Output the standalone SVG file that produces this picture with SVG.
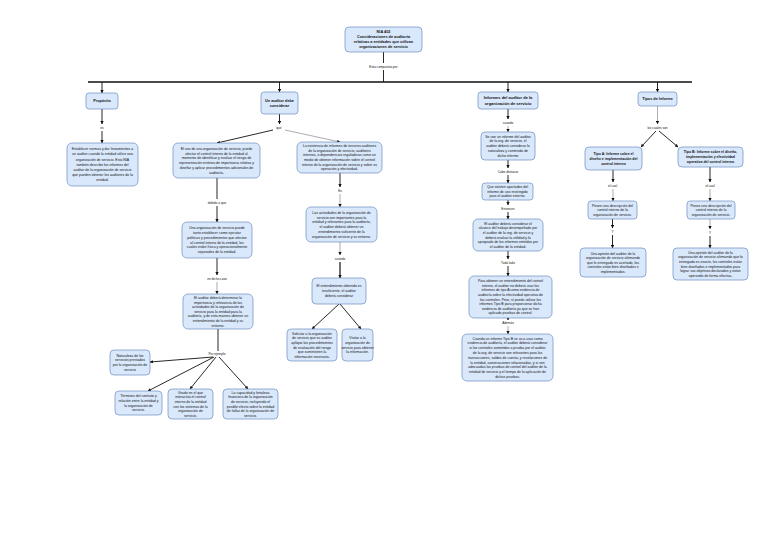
<svg xmlns="http://www.w3.org/2000/svg" width="768" height="544" viewBox="0 0 768 544">
<style>
.b{fill:#dae8fc;stroke:#6c8ebf;stroke-width:0.7}
.t{font-family:"Liberation Sans",Arial,sans-serif;font-size:3.5px;fill:#111;text-anchor:middle}
.h{font-family:"Liberation Sans",Arial,sans-serif;font-size:3.8px;font-weight:bold;fill:#111;text-anchor:middle}
.l{font-family:"Liberation Sans",Arial,sans-serif;font-size:3.2px;fill:#111;text-anchor:middle}
.e{stroke:#111;stroke-width:0.9;fill:none;marker-end:url(#a)}
.n{stroke:#111;stroke-width:0.9;fill:none}
.g{stroke:#888;stroke-width:0.7;fill:none;marker-end:url(#a)}
</style>
<defs>
<marker id="a" viewBox="0 0 6 6" refX="5.5" refY="3" markerWidth="3.2" markerHeight="3.2" markerUnits="userSpaceOnUse" orient="auto"><path d="M0,0 L6,3 L0,6 z" fill="#111"/></marker>
</defs>
<rect width="768" height="544" fill="#fff"/>
<g id="connectors">
<path class="n" d="M383.5,52 V63"/>
<path class="n" d="M383.5,70 V82"/>
<path class="n" d="M88,82 H692" style="stroke-width:1.3"/>
<path class="e" d="M102,82 V93"/>
<path class="e" d="M279.5,82 V92"/>
<path class="e" d="M508,82 V92"/>
<path class="e" d="M657.5,82 V92"/>
<path class="e" d="M102,109 V124"/>
<path class="e" d="M102,131 V143"/>
<path class="e" d="M279.5,114 V124"/>
<path class="e" d="M273,130 L217,143"/>
<path class="g" d="M285,130 L340,142"/>
<path class="n" d="M217,178 V199"/>
<path class="e" d="M217,206 V222"/>
<path class="e" d="M217,258 V275"/>
<path class="g" d="M217,282 V294"/>
<path class="n" d="M218,329 V351"/>
<path class="e" d="M213,357 L150,362"/>
<path class="e" d="M214,357 L148,391"/>
<path class="e" d="M216,357 L190,389"/>
<path class="e" d="M219,357 L248,389"/>
<path class="e" d="M340,173 V187"/>
<path class="g" d="M340,194 V207"/>
<path class="g" d="M340,242 V255"/>
<path class="e" d="M340,262 V278" style="stroke-width:1.2"/>
<path class="e" d="M339,304 L312,329"/>
<path class="e" d="M340,304 L361,329"/>
<path class="e" d="M508,109 V119"/>
<path class="g" d="M508,126 V132"/>
<path class="e" d="M508,160 V168"/>
<path class="e" d="M508,175 V183"/>
<path class="e" d="M508,200 V205"/>
<path class="e" d="M508,212 V219"/>
<path class="e" d="M508,251 V259"/>
<path class="e" d="M508,266 V276"/>
<path class="e" d="M508,318 V320"/>
<path class="g" d="M508,326 V334"/>
<path class="g" d="M657.5,106 V124"/>
<path class="e" d="M656,131 L641,147"/>
<path class="e" d="M659,131 L678,147"/>
<path class="e" d="M613,170 V182"/>
<path class="g" d="M613,189 V201"/>
<path class="e" d="M612.5,219 V228"/>
<path class="e" d="M612.5,235 V248"/>
<path class="e" d="M710,167 V182"/>
<path class="g" d="M710,189 V201"/>
<path class="g" d="M710,219 V229"/>
<path class="e" d="M710,236 V248"/>
</g>
<g id="labels">
<text class="l" x="383.5" y="67.8">Esta compuesta por</text>
<text class="l" x="102" y="128.8">es</text>
<text class="l" x="279" y="128.8">que</text>
<text class="l" x="217" y="203.8">debido a que</text>
<text class="l" x="217" y="279.8">en dicho caso</text>
<text class="l" x="217" y="355">Por ejemplo</text>
<text class="l" x="340" y="191.8">Es</text>
<text class="l" x="340" y="259.8">cuando</text>
<text class="l" x="508" y="123.8">cuando</text>
<text class="l" x="508" y="172.8">Cabe destacar</text>
<text class="l" x="508" y="209.8">Entonces</text>
<text class="l" x="508" y="263.8">Todo lado</text>
<text class="l" x="508" y="323.8">Además</text>
<text class="l" x="657.5" y="128.8">los cuales son</text>
<text class="l" x="612.5" y="186.8">el cual</text>
<text class="l" x="612.5" y="232.8">Y</text>
<text class="l" x="710" y="186.8">el cual</text>
<text class="l" x="710" y="233.8">Y</text>
</g>
<g id="title"><rect class="b" x="345" y="27" width="77" height="25" rx="4"/>
<text class="h" y="33.3"><tspan x="383.5">NIA 402</tspan><tspan x="383.5" dy="5">Consideraciones de auditoría</tspan><tspan x="383.5" dy="5">relativas a entidades que utilizan</tspan><tspan x="383.5" dy="5">organizaciones de servicio</tspan></text></g>
<g id="proposito"><rect class="b" x="86" y="93" width="32" height="16" rx="3"/>
<text class="h" x="102" y="102.3">Propósito</text></g>
<g id="proposito-def"><rect class="b" x="67" y="143" width="71" height="43" rx="5"/>
<text class="t" y="150.1"><tspan x="102.5">Establecer normas y dar lineamientos a</tspan><tspan x="102.5" dy="5.2">un auditor cuando la entidad utilice una</tspan><tspan x="102.5" dy="5.2">organización de servicio. Esta NIA</tspan><tspan x="102.5" dy="5.2">también describe los informes del</tspan><tspan x="102.5" dy="5.2">auditor de la organización de servicio</tspan><tspan x="102.5" dy="5.2">que pueden obtener los auditores de la</tspan><tspan x="102.5" dy="5.2">entidad.</tspan></text></g>
<g id="auditor"><rect class="b" x="261" y="92" width="37" height="22" rx="3"/>
<text class="h" y="101.8"><tspan x="279.5">Un auditor debe</tspan><tspan x="279.5" dy="5">considerar</tspan></text></g>
<g id="a1"><rect class="b" x="173" y="143" width="87" height="35" rx="5"/>
<text class="t" y="149.7"><tspan x="216.5">El uso de una organización de servicio, puede</tspan><tspan x="216.5" dy="4.8">afectar el control interno de la entidad al</tspan><tspan x="216.5" dy="4.8">momento de identificar y evaluar el riesgo de</tspan><tspan x="216.5" dy="4.8">representación errónea de importancia relativa y</tspan><tspan x="216.5" dy="4.8">diseñar y aplicar procedimientos adicionales de</tspan><tspan x="216.5" dy="4.8">auditoría.</tspan></text></g>
<g id="a2"><rect class="b" x="182" y="222" width="70" height="36" rx="5"/>
<text class="t" y="229.2"><tspan x="217">Una organización de servicio puede</tspan><tspan x="217" dy="4.8">tanto establecer como ejecutar</tspan><tspan x="217" dy="4.8">políticas y procedimientos que afectan</tspan><tspan x="217" dy="4.8">al control interno de la entidad, los</tspan><tspan x="217" dy="4.8">cuales están física y operacionalmente</tspan><tspan x="217" dy="4.8">separados de la entidad.</tspan></text></g>
<g id="a3"><rect class="b" x="183" y="294" width="70" height="35" rx="5"/>
<text class="t" y="298.9"><tspan x="218">El auditor deberá determinar la</tspan><tspan x="218" dy="4.6">importancia y relevancia de las</tspan><tspan x="218" dy="4.6">actividades de la organización de</tspan><tspan x="218" dy="4.6">servicio para la entidad para la</tspan><tspan x="218" dy="4.6">auditoría, y de esta manera obtener un</tspan><tspan x="218" dy="4.6">entendimiento de la entidad y su</tspan><tspan x="218" dy="4.6">entorno.</tspan></text></g>
<g id="n1"><rect class="b" x="110" y="350" width="40" height="25" rx="4"/>
<text class="t" y="356.8"><tspan x="130">Naturaleza de los</tspan><tspan x="130" dy="4.6">servicios prestados</tspan><tspan x="130" dy="4.6">por la organización de</tspan><tspan x="130" dy="4.6">servicio</tspan></text></g>
<g id="n2"><rect class="b" x="115" y="391" width="47" height="24" rx="4"/>
<text class="t" y="397.3"><tspan x="138.5">Términos del contrato y</tspan><tspan x="138.5" dy="4.6">relación entre la entidad y</tspan><tspan x="138.5" dy="4.6">la organización de</tspan><tspan x="138.5" dy="4.6">servicio.</tspan></text></g>
<g id="n3"><rect class="b" x="168" y="389" width="45" height="30" rx="4"/>
<text class="t" y="393.7"><tspan x="190.5">Grado en el que</tspan><tspan x="190.5" dy="4.6">interactúa el control</tspan><tspan x="190.5" dy="4.6">interno de la entidad</tspan><tspan x="190.5" dy="4.6">con los sistemas de la</tspan><tspan x="190.5" dy="4.6">organización de</tspan><tspan x="190.5" dy="4.6">servicio.</tspan></text></g>
<g id="n4"><rect class="b" x="223" y="389" width="55" height="30" rx="4"/>
<text class="t" y="393.7"><tspan x="250.5">La capacidad y fortaleza</tspan><tspan x="250.5" dy="4.6">financiera de la organización</tspan><tspan x="250.5" dy="4.6">de servicio, incluyendo el</tspan><tspan x="250.5" dy="4.6">posible efecto sobre la entidad</tspan><tspan x="250.5" dy="4.6">de fallas de la organización de</tspan><tspan x="250.5" dy="4.6">servicio.</tspan></text></g>
<g id="b1"><rect class="b" x="297" y="142" width="85" height="31" rx="5"/>
<text class="t" y="147.2"><tspan x="339.5">La existencia de informes de terceros auditores</tspan><tspan x="339.5" dy="4.6">de la organización de servicio, auditores</tspan><tspan x="339.5" dy="4.6">internos, o dependencias reguladoras como un</tspan><tspan x="339.5" dy="4.6">medio de obtener información sobre el control</tspan><tspan x="339.5" dy="4.6">interno de la organización de servicio y sobre su</tspan><tspan x="339.5" dy="4.6">operación y efectividad.</tspan></text></g>
<g id="b2"><rect class="b" x="306" y="207" width="71" height="35" rx="5"/>
<text class="t" y="213.7"><tspan x="341.5">Las actividades de la organización de</tspan><tspan x="341.5" dy="4.8">servicio son importantes para la</tspan><tspan x="341.5" dy="4.8">entidad y relevantes para la auditoría,</tspan><tspan x="341.5" dy="4.8">el auditor deberá obtener un</tspan><tspan x="341.5" dy="4.8">entendimiento suficiente de la</tspan><tspan x="341.5" dy="4.8">organización de servicio y su entorno.</tspan></text></g>
<g id="b3"><rect class="b" x="312" y="278" width="54" height="26" rx="4"/>
<text class="t" y="287.4"><tspan x="339">El entendimiento obtenido es</tspan><tspan x="339" dy="4.8">insuficiente, el auditor</tspan><tspan x="339" dy="4.8">deberá considerar</tspan></text></g>
<g id="b4"><rect class="b" x="287" y="329" width="50" height="32" rx="4"/>
<text class="t" y="334.7"><tspan x="312">Solicitar a la organización</tspan><tspan x="312" dy="4.6">de servicio que su auditor</tspan><tspan x="312" dy="4.6">aplique los procedimientos</tspan><tspan x="312" dy="4.6">de evaluación del riesgo</tspan><tspan x="312" dy="4.6">que suministren la</tspan><tspan x="312" dy="4.6">información necesaria.</tspan></text></g>
<g id="b5"><rect class="b" x="342" y="329" width="31" height="32" rx="4"/>
<text class="t" y="339.3"><tspan x="357.5">Visitar a la</tspan><tspan x="357.5" dy="4.6">organización de</tspan><tspan x="357.5" dy="4.6">servicio para obtener</tspan><tspan x="357.5" dy="4.6">la información.</tspan></text></g>
<g id="informes"><rect class="b" x="478" y="92" width="60" height="17" rx="3"/>
<text class="h" y="99.3" style="font-size:4px"><tspan x="508">Informes del auditor de la</tspan><tspan x="508" dy="5.2">organización de servicio</tspan></text></g>
<g id="c1"><rect class="b" x="481" y="132" width="54" height="28" rx="4"/>
<text class="t" y="137.6"><tspan x="508">Se use un informe del auditor</tspan><tspan x="508" dy="4.8">de la org. de servicio, el</tspan><tspan x="508" dy="4.8">auditor deberá considerar la</tspan><tspan x="508" dy="4.8">naturaleza y contenido de</tspan><tspan x="508" dy="4.8">dicho informe</tspan></text></g>
<g id="c2"><rect class="b" x="482" y="183" width="51" height="17" rx="3"/>
<text class="t" y="188.1"><tspan x="507.5">Que existen apartados del</tspan><tspan x="507.5" dy="4.6">informe de uso restringido</tspan><tspan x="507.5" dy="4.6">para el auditor externo.</tspan></text></g>
<g id="c3"><rect class="b" x="473" y="219" width="70" height="32" rx="5"/>
<text class="t" y="224.7"><tspan x="508">El auditor deberá considerar el</tspan><tspan x="508" dy="4.6">alcance del trabajo desempeñado por</tspan><tspan x="508" dy="4.6">el auditor de la org. de servicio y</tspan><tspan x="508" dy="4.6">deberá evaluar la utilidad y lo</tspan><tspan x="508" dy="4.6">apropiado de los informes emitidos por</tspan><tspan x="508" dy="4.6">el auditor de la entidad.</tspan></text></g>
<g id="c4"><rect class="b" x="469" y="276" width="83" height="42" rx="5"/>
<text class="t" y="282.1"><tspan x="510.5">Para obtener un entendimiento del control</tspan><tspan x="510.5" dy="4.6">interno, el auditor no deberá usar los</tspan><tspan x="510.5" dy="4.6">informes de tipo A como evidencia de</tspan><tspan x="510.5" dy="4.6">auditoría sobre la efectividad operativa de</tspan><tspan x="510.5" dy="4.6">los controles. Pero, sí puede utilizar los</tspan><tspan x="510.5" dy="4.6">informes Tipo B para proporcionar dicha</tspan><tspan x="510.5" dy="4.6">evidencia de auditoría ya que se han</tspan><tspan x="510.5" dy="4.6">aplicado pruebas de control.</tspan></text></g>
<g id="c5"><rect class="b" x="462" y="334" width="91" height="47" rx="5"/>
<text class="t" y="339.5"><tspan x="507.5">Cuando un informe Tipo B se va a usar como</tspan><tspan x="507.5" dy="4.8">evidencia de auditoría, el auditor deberá considerar</tspan><tspan x="507.5" dy="4.8">si los controles sometidos a prueba por el auditor</tspan><tspan x="507.5" dy="4.8">de la org. de servicio son relevantes para las</tspan><tspan x="507.5" dy="4.8">transacciones, saldos de cuenta, y revelaciones de</tspan><tspan x="507.5" dy="4.8">la entidad, aseveraciones relacionadas, y si son</tspan><tspan x="507.5" dy="4.8">adecuadas las pruebas de control del auditor de la</tspan><tspan x="507.5" dy="4.8">entidad de servicio y el tiempo de la aplicación de</tspan><tspan x="507.5" dy="4.8">dichas pruebas.</tspan></text></g>
<g id="tipos"><rect class="b" x="638" y="92" width="39" height="14" rx="3"/>
<text class="h" x="657.5" y="100.4">Tipos de Informe</text></g>
<g id="d1"><rect class="b" x="585" y="147" width="57" height="23" rx="4"/>
<text class="h" y="154.9" style="font-size:3.5px"><tspan x="613.5">Tipo A: Informe sobre el</tspan><tspan x="613.5" dy="4.8">diseño e implementación del</tspan><tspan x="613.5" dy="4.8">control interno</tspan></text></g>
<g id="d2"><rect class="b" x="678" y="147" width="65" height="20" rx="4"/>
<text class="h" y="153.4" style="font-size:3.5px"><tspan x="710.5">Tipo B: Informe sobre el diseño,</tspan><tspan x="710.5" dy="4.8">implementación y efectividad</tspan><tspan x="710.5" dy="4.8">operativa del control interno</tspan></text></g>
<g id="d3"><rect class="b" x="588" y="201" width="49" height="18" rx="3"/>
<text class="t" y="206.6"><tspan x="612.5">Posee una descripción del</tspan><tspan x="612.5" dy="4.6">control interno de la</tspan><tspan x="612.5" dy="4.6">organización de servicio.</tspan></text></g>
<g id="d4"><rect class="b" x="580" y="248" width="66" height="29" rx="4"/>
<text class="t" y="254.5"><tspan x="613">Una opinión del auditor de la</tspan><tspan x="613" dy="4.6">organización de servicio afirmando</tspan><tspan x="613" dy="4.6">que lo entregado es acertado, los</tspan><tspan x="613" dy="4.6">controles están bien diseñados e</tspan><tspan x="613" dy="4.6">implementados.</tspan></text></g>
<g id="d5"><rect class="b" x="687" y="201" width="48" height="18" rx="3"/>
<text class="t" y="206.6"><tspan x="711">Posee una descripción del</tspan><tspan x="711" dy="4.6">control interno de la</tspan><tspan x="711" dy="4.6">organización de servicio.</tspan></text></g>
<g id="d6"><rect class="b" x="673" y="248" width="75" height="32" rx="4"/>
<text class="t" y="253.7"><tspan x="710.5">Una opinión del auditor de la</tspan><tspan x="710.5" dy="4.6">organización de servicio afirmando que lo</tspan><tspan x="710.5" dy="4.6">entregado es exacto, los controles están</tspan><tspan x="710.5" dy="4.6">bien diseñados e implementados para</tspan><tspan x="710.5" dy="4.6">lograr sus objetivos declarados y están</tspan><tspan x="710.5" dy="4.6">operando de forma efectiva.</tspan></text></g>
</svg>
